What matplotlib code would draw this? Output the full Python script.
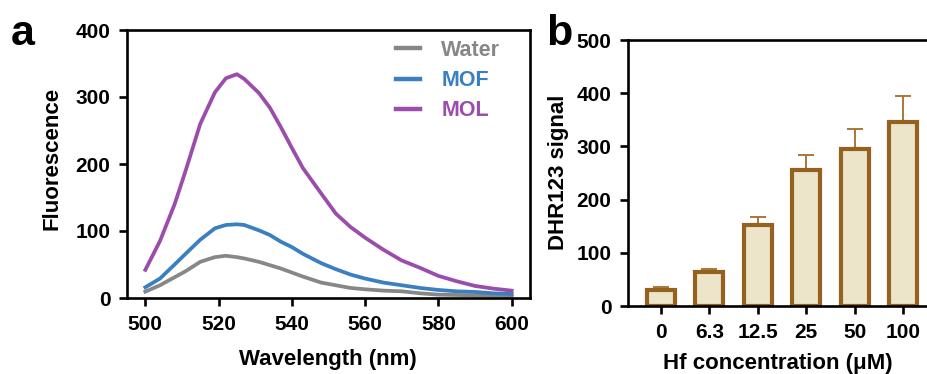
import matplotlib
matplotlib.use("Agg")
import matplotlib.pyplot as plt
import numpy as np

plt.rcParams['font.family'] = ['Liberation Sans', 'DejaVu Sans']
plt.rcParams['font.weight'] = 'bold'

# Panel a data
wl = [500, 504, 508, 511, 515, 519, 522, 525, 527, 531, 534, 537, 540, 543, 548,
      552, 556, 560, 565, 570, 575, 580, 585, 590, 595, 600]
mol = [42, 85, 140, 190, 260, 307, 328, 334, 327, 306, 284, 255, 224, 194, 156,
       126, 106, 90, 72, 56, 45, 33, 25, 18, 14, 11]
mof = [16, 29, 50, 66, 87, 104, 109, 110, 109, 101, 94, 84, 76, 66, 52,
       43, 35, 29, 23, 19, 15, 12, 10, 9, 7, 6]
water = [9.5, 19, 31, 40, 54, 61, 63, 61, 59, 54, 49, 44, 38, 32, 23,
         19, 15, 13, 11, 10, 7, 5, 4.5, 4, 3.5, 3]

# Panel b data
conc_labels = ["0", "6.3", "12.5", "25", "50", "100"]
signal = [31, 64, 152, 256, 296, 346]
signal_err = [4, 6, 15, 28, 36, 49]

W, H = 928, 374
fig = plt.figure(figsize=(W/100, H/100), dpi=100)

def fx(px):
    return px / W

def fy(py):
    return 1 - py / H

ax1 = fig.add_axes([fx(127), fy(298), (530-127)/W, (298-30)/H])
ax1.plot(wl, water, color='#878787', lw=2.7, label='Water')
ax1.plot(wl, mof, color='#3a7fc0', lw=2.7, label='MOF')
ax1.plot(wl, mol, color='#9b4dab', lw=2.7, label='MOL')
ax1.set_xlim(495, 605)
ax1.set_ylim(0, 400)
ax1.set_xticks([500, 520, 540, 560, 580, 600])
ax1.set_yticks([0, 100, 200, 300, 400])
ax1.set_xlabel('Wavelength (nm)', fontsize=16, fontweight='bold')
ax1.set_ylabel('Fluorescence', fontsize=16, fontweight='bold')
ax1.xaxis.set_label_coords(fx(328), fy(360), transform=fig.transFigure)
ax1.yaxis.set_label_coords(fx(52), fy(158), transform=fig.transFigure)
leg = ax1.legend(loc='upper left', frameon=False, fontsize=15.5, handlelength=1.1,
                 handletextpad=1.0, labelspacing=0.42, borderaxespad=0.0,
                 borderpad=0.0, bbox_to_anchor=(fx(396), fy(40)),
                 bbox_transform=fig.transFigure)
for t, l in zip(leg.get_texts(), leg.get_lines()):
    t.set_color(l.get_color())
    t.set_fontweight('bold')
    l.set_linewidth(3.2)

ax2 = fig.add_axes([fx(628), fy(306), (936-628)/W, (306-40)/H])
x = np.arange(len(conc_labels))
ax2.bar(x, signal, width=0.58, color='#ede5c9', edgecolor='#95611f', linewidth=3.0, zorder=2)
ax2.errorbar(x, signal, yerr=[[0]*len(signal_err), signal_err], fmt='none',
             ecolor='#a8773a', elinewidth=1.4, capsize=6, capthick=1.4, zorder=1)
ax2.set_xlim(-0.68, 5.68)
ax2.set_ylim(0, 500)
ax2.set_xticks(x)
ax2.set_xticklabels(conc_labels)
ax2.set_yticks([0, 100, 200, 300, 400, 500])
ax2.set_xlabel('Hf concentration (μM)', fontsize=16, fontweight='bold')
ax2.set_ylabel('DHR123 signal', fontsize=16, fontweight='bold')
ax2.xaxis.set_label_coords(fx(778), fy(363), transform=fig.transFigure)
ax2.yaxis.set_label_coords(fx(559), fy(172), transform=fig.transFigure)

for ax in (ax1, ax2):
    for s in ax.spines.values():
        s.set_linewidth(1.9)
    ax.tick_params(axis='both', width=1.9, length=6, labelsize=15, pad=6)
    for lab in ax.get_xticklabels() + ax.get_yticklabels():
        lab.set_fontweight('bold')
    ax.xaxis.label.set_va('center')
    ax.yaxis.label.set_va('center')

fig.text(fx(11), fy(45), 'a', fontsize=31, fontweight='bold', va='baseline')
fig.text(fx(546), fy(45), 'b', fontsize=31, fontweight='bold', va='baseline')

fig.savefig('out.png', dpi=100)
